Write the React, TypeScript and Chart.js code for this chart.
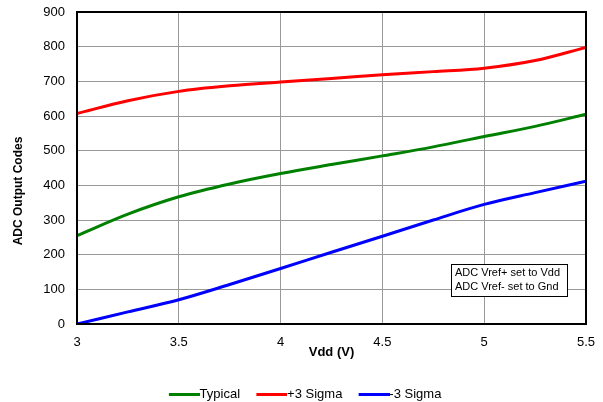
import React, { useEffect, useRef } from "react";
import { Chart, registerables } from "chart.js";

Chart.register(...registerables);

const vdd = [3.0, 3.25, 3.5, 3.75, 4.0, 4.25, 4.5, 4.75, 5.0, 5.25, 5.5];
const typical = [255, 317, 367, 404, 434, 460, 485, 511, 541, 570, 605];
const plus3Sigma = [607, 644, 671, 687, 698, 708, 719, 728, 738, 760, 798];
const minus3Sigma = [0, 35, 70, 114, 160, 207, 253, 300, 345, 379, 412];
const seriesNames = ["Typical", "+3 Sigma", "-3 Sigma"];
const seriesColors = ["#008000", "#ff0000", "#0000ff"];
const noteLines = ["ADC Vref+ set to Vdd", "ADC Vref- set to Gnd"];
const xTitle = "Vdd (V)";
const yTitle = "ADC Output Codes";

const FONT = "'Liberation Sans', Arial, sans-serif";

function legendSwatch(color: string) {
  const c = document.createElement("canvas");
  c.width = 38;
  c.height = 3;
  const g = c.getContext("2d")!;
  g.fillStyle = color;
  g.fillRect(7, 0, 31, 3);
  return c;
}

const framePlugin = {
  id: "frameAndNote",
  afterLayout(chart: any) {
    if (chart.legend) {
      chart.legend.left += 12;
      chart.legend.right += 12;
    }
  },
  afterDatasetsDraw(chart: any) {
    const { ctx, chartArea } = chart;
    ctx.save();
    ctx.strokeStyle = "#000";
    ctx.lineWidth = 2;
    ctx.strokeRect(chartArea.left, chartArea.top, chartArea.right - chartArea.left, chartArea.bottom - chartArea.top);
    // note box
    const bw = 116, bh = 32;
    const bx = chartArea.right - 19 - bw;
    const by = chartArea.bottom - 28 - bh;
    ctx.fillStyle = "#fff";
    ctx.fillRect(bx, by, bw, bh);
    ctx.lineWidth = 1;
    ctx.strokeRect(bx + 0.5, by + 0.5, bw, bh);
    ctx.fillStyle = "#000";
    ctx.font = `11px ${FONT}`;
    ctx.textBaseline = "middle";
    ctx.textAlign = "left";
    noteLines.forEach((t, i) => ctx.fillText(t, bx + 4, by + 9 + i * 14));
    // y axis title
    ctx.save();
    ctx.translate(19, 191);
    ctx.rotate(-Math.PI / 2);
    ctx.font = `bold 12px ${FONT}`;
    ctx.textAlign = "center";
    ctx.fillText(yTitle, 0, 0);
    ctx.restore();
    ctx.restore();
  },
};

export default function App() {
  const ref = useRef<HTMLCanvasElement>(null);
  useEffect(() => {
    document.body.style.margin = "0";
    const mk = (arr: number[]) => vdd.map((x, i) => ({ x, y: arr[i] }));
    const chart = new Chart(ref.current!, {
      type: "line",
      data: {
        datasets: [typical, plus3Sigma, minus3Sigma].map((arr, i) => ({
          label: seriesNames[i],
          data: mk(arr),
          borderColor: seriesColors[i],
          backgroundColor: seriesColors[i],
          borderWidth: 3,
          pointRadius: 0,
          pointStyle: legendSwatch(seriesColors[i]) as any,
          cubicInterpolationMode: "monotone" as const,
          fill: false,
        })),
      },
      options: {
        responsive: false,
        animation: false,
        events: [],
        layout: { padding: { top: 12, right: 17, left: 0, bottom: 0 } },
        plugins: {
          tooltip: { enabled: false },
          legend: {
            position: "bottom",
            labels: {
              usePointStyle: true,
              pointStyleWidth: 24.5,
              padding: 16,
              color: "#000",
              font: { family: FONT, size: 13 },
            },
          },
        },
        scales: {
          x: {
            type: "linear",
            min: 3,
            max: 5.5,
            ticks: {
              stepSize: 0.5,
              color: "#000",
              padding: 11,
              font: { family: FONT, size: 13 },
              callback: (v: any) => String(Number(v)),
            },
            grid: { color: "#999", drawTicks: false },
            border: { display: false },
            title: { display: true, text: xTitle, color: "#000", font: { family: FONT, size: 13, weight: "bold" }, padding: { top: 0, bottom: 12 } },
            afterFit: (s: any) => {
              s.height = 48;
              s.paddingLeft = 0;
              s.paddingRight = 0;
            },
          },
          y: {
            min: 0,
            max: 900,
            ticks: { stepSize: 100, color: "#000", padding: 12, font: { family: FONT, size: 13 } },
            grid: { color: "#999", drawTicks: false },
            border: { display: false },
            afterFit: (s: any) => {
              s.width = 77;
              s.paddingTop = 0;
              s.paddingBottom = 0;
            },
          },
        },
      },
      plugins: [framePlugin],
    });
    return () => chart.destroy();
  }, []);
  return (
    <div style={{ width: 603, height: 402, overflow: "hidden", background: "#fff" }}>
      <canvas ref={ref} width={603} height={411} style={{ display: "block" }} />
    </div>
  );
}
